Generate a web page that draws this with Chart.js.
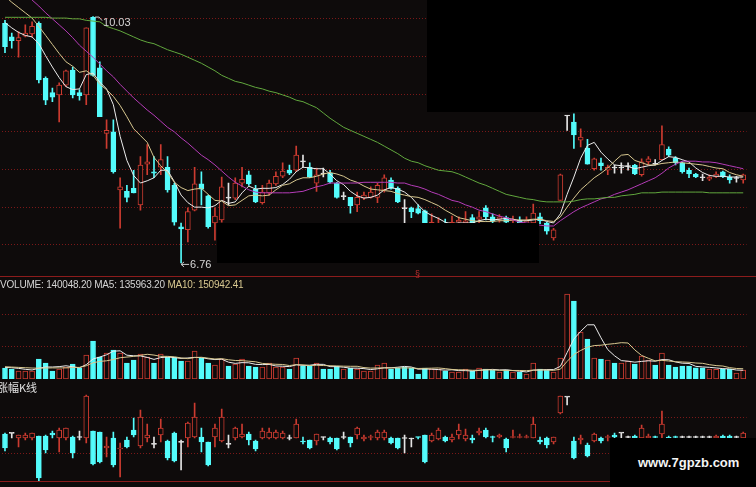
<!DOCTYPE html>
<html lang="zh-CN">
<head>
<meta charset="UTF-8">
<title>K线</title>
<style>
  html, body { margin: 0; padding: 0; background: #0e0b0b; }
  #wrap { position: relative; width: 756px; height: 487px; overflow: hidden; background: #0e0b0b;
          font-family: "Liberation Sans", Arial, sans-serif; }
  canvas { position: absolute; left: 0; }
  .mask { position: absolute; background: #000; }
  .sep { position: absolute; left: 0; width: 756px; height: 1px; background: #8c1c1c; }
  .txt { position: absolute; white-space: nowrap; line-height: 12px; }
</style>
</head>
<body>
<div id="wrap">
  <canvas id="main" width="756" height="276" style="top:0"></canvas>
  <canvas id="vol" width="756" height="102" style="top:277px"></canvas>
  <canvas id="pct" width="756" height="97" style="top:384px"></canvas>
  <div class="sep" style="top:276px"></div>
  <div class="sep" style="top:481px"></div>
  <div class="txt" style="left:415px;top:268px;font-size:9px;color:#c03030">§</div>
  <div class="txt" style="left:0;top:279px;font-size:10px;letter-spacing:-0.2px;color:#d4d4d4">VOLUME: 140048.20 MA5: 135963.20 <span style="color:#d8c890">MA10: 150942.41</span></div>
  <div class="txt" style="left:-3px;top:381px;font-size:11px;color:#e0e0e0;font-family:'Noto Sans CJK SC'">涨幅K线</div>
  <div class="mask" style="left:427px;top:0;width:329px;height:112px"></div>
  <div class="mask" style="left:217px;top:223px;width:322px;height:40px"></div>
  <div class="mask" style="left:610px;top:438px;width:146px;height:49px"></div>
  <div class="txt" style="left:638px;top:457px;font-size:13px;font-weight:bold;color:#f4f4f4">www.7gpzb.com</div>
</div>
<script src="https://cdn.jsdelivr.net/npm/chart.js"></script>
<script>
// daily prices
const open = [
  9.94, 9.76, 9.71, 9.77, 9.80, 9.94, 9.21, 9.02, 8.99, 9.12,
  9.32, 9.02, 8.99, 10.02, 9.35, 8.48, 8.50, 7.73, 7.71, 7.75,
  7.53, 8.07, 7.97, 8.03, 8.03, 7.79, 7.24, 7.20, 7.46, 7.81,
  7.65, 7.29, 7.33, 7.63, 7.62, 7.82, 7.93, 7.74, 7.56, 7.69,
  7.81, 7.91, 7.99, 7.99, 8.11, 8.03, 7.82, 7.95, 7.95, 7.82,
  7.64, 7.63, 7.53, 7.62, 7.63, 7.63, 7.73, 7.86, 7.75, 7.49,
  7.49, 7.48, 7.45, 7.22, 7.22, 7.28, 7.25, 7.30, 7.29, 7.36,
  7.34, 7.49, 7.37, 7.34, 7.36, 7.32, 7.33, 7.28, 7.29, 7.37,
  7.29, 7.09, 7.59, 8.71, 8.63, 8.39, 8.28, 8.01, 8.09, 7.99,
  8.03, 8.02, 8.04, 8.06, 7.93, 8.10, 8.08, 8.13, 8.27, 8.15,
  8.09, 7.99, 7.94, 7.90, 7.87, 7.90, 7.97, 7.90, 7.88, 7.86
];
const high = [
  9.98, 9.81, 9.83, 9.92, 9.96, 9.96, 9.23, 9.08, 9.15, 9.32,
  9.36, 9.06, 9.88, 10.03, 9.43, 8.66, 8.66, 7.89, 7.79, 7.99,
  8.17, 8.33, 8.17, 8.33, 8.17, 7.82, 7.29, 7.49, 8.03, 7.97,
  7.66, 7.49, 7.90, 7.82, 7.89, 8.03, 7.98, 7.79, 7.79, 7.86,
  7.97, 8.09, 8.06, 8.31, 8.19, 8.09, 8.02, 8.02, 7.99, 7.83,
  7.70, 7.63, 7.70, 7.70, 7.77, 7.82, 7.93, 7.89, 7.77, 7.60,
  7.50, 7.53, 7.46, 7.41, 7.36, 7.34, 7.38, 7.37, 7.44, 7.40,
  7.44, 7.52, 7.41, 7.40, 7.38, 7.38, 7.37, 7.37, 7.54, 7.42,
  7.30, 7.22, 7.94, 8.72, 8.74, 8.54, 8.40, 8.15, 8.15, 8.06,
  8.06, 8.09, 8.09, 8.07, 8.14, 8.17, 8.13, 8.58, 8.30, 8.17,
  8.10, 8.02, 7.95, 7.94, 7.93, 7.97, 7.98, 7.93, 7.91, 7.94
];
const low = [
  9.55, 9.61, 9.49, 9.76, 9.76, 9.15, 8.86, 8.90, 8.63, 9.10,
  8.95, 8.92, 8.86, 9.24, 8.70, 8.28, 7.95, 7.22, 7.57, 7.69,
  7.46, 7.93, 7.89, 7.93, 7.70, 7.26, 6.76, 7.04, 7.45, 7.53,
  7.22, 7.06, 7.30, 7.53, 7.60, 7.77, 7.79, 7.56, 7.54, 7.66,
  7.79, 7.89, 7.93, 7.97, 8.03, 7.89, 7.71, 7.90, 7.82, 7.62,
  7.60, 7.42, 7.44, 7.60, 7.62, 7.56, 7.70, 7.74, 7.56, 7.29,
  7.36, 7.41, 7.28, 7.20, 7.17, 7.18, 7.22, 7.28, 7.28, 7.28,
  7.29, 7.33, 7.29, 7.30, 7.28, 7.29, 7.25, 7.22, 7.28, 7.28,
  7.14, 7.06, 7.59, 8.52, 8.28, 8.30, 8.07, 7.99, 7.99, 7.93,
  7.95, 7.95, 7.99, 7.93, 7.91, 8.06, 8.06, 8.13, 8.17, 8.06,
  7.95, 7.89, 7.89, 7.85, 7.85, 7.89, 7.89, 7.82, 7.83, 7.82
];
const close = [
  9.63, 9.71, 9.75, 9.81, 9.90, 9.19, 8.92, 8.96, 9.12, 9.31,
  8.99, 8.98, 9.88, 9.25, 8.70, 8.52, 7.97, 7.77, 7.63, 7.69,
  8.06, 8.10, 7.95, 8.13, 7.73, 7.30, 7.21, 7.44, 7.81, 7.74,
  7.24, 7.38, 7.77, 7.62, 7.82, 7.87, 7.81, 7.57, 7.70, 7.82,
  7.91, 7.98, 7.95, 8.19, 8.10, 7.90, 7.93, 7.94, 7.83, 7.63,
  7.65, 7.52, 7.63, 7.66, 7.70, 7.79, 7.89, 7.75, 7.57, 7.48,
  7.44, 7.42, 7.29, 7.30, 7.28, 7.22, 7.30, 7.33, 7.32, 7.29,
  7.37, 7.37, 7.32, 7.37, 7.30, 7.34, 7.29, 7.32, 7.42, 7.32,
  7.18, 7.20, 7.93, 8.72, 8.46, 8.43, 8.07, 8.14, 8.05, 8.03,
  8.02, 8.03, 8.05, 7.94, 8.10, 8.14, 8.07, 8.33, 8.19, 8.09,
  7.97, 7.94, 7.90, 7.89, 7.90, 7.94, 7.90, 7.86, 7.89, 7.93
];

// moving averages as drawn
const ma5 = [
  9.95, 9.88, 9.82, 9.78, 9.76, 9.67, 9.51, 9.36, 9.22, 9.10,
  9.06, 9.07, 9.26, 9.28, 9.16, 9.07, 8.86, 8.44, 8.12, 7.92,
  7.82, 7.85, 7.89, 7.99, 7.99, 7.84, 7.66, 7.56, 7.50, 7.50,
  7.49, 7.52, 7.59, 7.55, 7.57, 7.69, 7.78, 7.74, 7.75, 7.75,
  7.76, 7.80, 7.87, 7.97, 8.03, 8.02, 8.01, 8.01, 7.94, 7.85,
  7.80, 7.71, 7.65, 7.62, 7.63, 7.66, 7.73, 7.76, 7.74, 7.70,
  7.63, 7.53, 7.44, 7.39, 7.35, 7.30, 7.28, 7.29, 7.29, 7.29,
  7.32, 7.34, 7.33, 7.34, 7.35, 7.34, 7.32, 7.32, 7.33, 7.34,
  7.31, 7.29, 7.41, 7.67, 7.90, 8.15, 8.32, 8.36, 8.23, 8.14,
  8.06, 8.05, 8.04, 8.01, 8.03, 8.05, 8.06, 8.12, 8.17, 8.16,
  8.13, 8.10, 8.02, 7.96, 7.92, 7.91, 7.91, 7.90, 7.90, 7.90
];
const ma10 = [
  10.30, 10.22, 10.15, 10.08, 10.01, 9.90, 9.78, 9.66, 9.54, 9.43,
  9.37, 9.29, 9.31, 9.25, 9.13, 9.06, 8.97, 8.85, 8.70, 8.54,
  8.45, 8.36, 8.16, 8.05, 7.96, 7.83, 7.76, 7.72, 7.74, 7.75,
  7.67, 7.59, 7.58, 7.52, 7.53, 7.59, 7.65, 7.66, 7.65, 7.66,
  7.73, 7.79, 7.81, 7.86, 7.89, 7.89, 7.91, 7.94, 7.96, 7.94,
  7.91, 7.86, 7.83, 7.78, 7.74, 7.73, 7.72, 7.71, 7.68, 7.66,
  7.64, 7.63, 7.60, 7.56, 7.52, 7.46, 7.41, 7.36, 7.34, 7.32,
  7.31, 7.31, 7.31, 7.32, 7.32, 7.33, 7.33, 7.33, 7.34, 7.34,
  7.32, 7.31, 7.37, 7.50, 7.62, 7.73, 7.81, 7.89, 7.95, 8.02,
  8.11, 8.19, 8.20, 8.12, 8.09, 8.06, 8.06, 8.08, 8.09, 8.10,
  8.09, 8.08, 8.07, 8.06, 8.04, 8.02, 8.01, 7.96, 7.93, 7.91
];
const ma20 = [
  10.58, 10.50, 10.42, 10.33, 10.25, 10.17, 10.08, 10.00, 9.92, 9.84,
  9.75, 9.65, 9.57, 9.49, 9.40, 9.31, 9.23, 9.13, 9.04, 8.95,
  8.87, 8.79, 8.72, 8.64, 8.56, 8.50, 8.42, 8.35, 8.27, 8.19,
  8.13, 8.06, 7.98, 7.90, 7.83, 7.78, 7.73, 7.70, 7.69, 7.69,
  7.69, 7.69, 7.69, 7.70, 7.71, 7.74, 7.77, 7.79, 7.82, 7.82,
  7.82, 7.82, 7.82, 7.83, 7.83, 7.83, 7.83, 7.83, 7.82, 7.82,
  7.79, 7.77, 7.74, 7.70, 7.67, 7.63, 7.59, 7.57, 7.53, 7.50,
  7.46, 7.44, 7.41, 7.38, 7.36, 7.33, 7.30, 7.29, 7.28, 7.26,
  7.25, 7.25, 7.32, 7.38, 7.44, 7.49, 7.53, 7.57, 7.61, 7.63,
  7.67, 7.70, 7.73, 7.77, 7.81, 7.85, 7.89, 7.95, 8.02, 8.07,
  8.11, 8.11, 8.11, 8.10, 8.10, 8.09, 8.07, 8.05, 8.03, 8.01
];
const ma60 = [
  10.02, 10.02, 10.02, 10.02, 10.02, 10.02, 10.02, 10.01, 10.01, 10.01,
  10.00, 10.00, 9.98, 9.97, 9.96, 9.90, 9.87, 9.84, 9.80, 9.76,
  9.72, 9.69, 9.67, 9.63, 9.59, 9.56, 9.53, 9.49, 9.45, 9.41,
  9.36, 9.31, 9.25, 9.21, 9.17, 9.15, 9.12, 9.09, 9.07, 9.04,
  9.02, 8.99, 8.96, 8.92, 8.90, 8.86, 8.82, 8.75, 8.68, 8.62,
  8.56, 8.52, 8.48, 8.44, 8.40, 8.36, 8.31, 8.26, 8.21, 8.15,
  8.11, 8.09, 8.05, 8.02, 7.99, 7.98, 7.97, 7.94, 7.90, 7.86,
  7.82, 7.79, 7.75, 7.71, 7.67, 7.65, 7.63, 7.61, 7.60, 7.58,
  7.57, 7.57, 7.57, 7.57, 7.58, 7.60, 7.61, 7.61, 7.62, 7.63,
  7.63, 7.65, 7.66, 7.67, 7.69, 7.69, 7.69, 7.70, 7.70, 7.70,
  7.70, 7.70, 7.70, 7.70, 7.69, 7.69, 7.69, 7.69, 7.69, 7.69
];

// volume, thousands
const volume = [
  171, 155, 124, 124, 124, 310, 248, 124, 155, 186,
  233, 171, 372, 589, 341, 403, 450, 403, 248, 295,
  388, 341, 248, 388, 341, 341, 279, 279, 434, 326,
  248, 217, 310, 202, 233, 310, 202, 186, 186, 248,
  186, 186, 155, 326, 202, 202, 248, 155, 155, 202,
  155, 171, 155, 124, 124, 217, 248, 155, 171, 186,
  171, 78, 171, 155, 155, 124, 109, 109, 155, 124,
  171, 155, 140, 109, 140, 109, 109, 78, 248, 155,
  140, 109, 326, 1318, 1209, 729, 620, 326, 310, 295,
  248, 248, 279, 233, 357, 295, 217, 403, 217, 186,
  200, 200, 175, 175, 155, 150, 150, 150, 90, 140
];
const volMa5 = [
  180, 175, 165, 150, 140, 167, 186, 186, 192, 205,
  189, 174, 223, 310, 341, 375, 431, 437, 369, 360,
  357, 335, 304, 332, 341, 332, 319, 326, 335, 332,
  313, 301, 307, 261, 242, 254, 251, 227, 223, 226,
  202, 198, 192, 220, 211, 214, 227, 227, 192, 192,
  183, 168, 168, 161, 146, 158, 174, 174, 183, 195,
  186, 152, 155, 152, 146, 137, 143, 130, 130, 124,
  134, 143, 149, 140, 143, 131, 121, 109, 137, 140,
  146, 146, 196, 410, 620, 738, 840, 840, 639, 456,
  360, 285, 276, 261, 273, 282, 276, 301, 298, 264,
  245, 241, 196, 187, 181, 171, 161, 156, 139, 136
];
const volMa10 = [
  190, 185, 180, 175, 170, 168, 170, 172, 172, 172,
  178, 180, 205, 251, 273, 282, 302, 330, 340, 351,
  366, 383, 371, 351, 351, 344, 327, 315, 333, 337,
  323, 310, 316, 298, 287, 284, 276, 267, 242, 234,
  228, 225, 209, 222, 219, 208, 213, 209, 206, 202,
  199, 197, 197, 177, 169, 171, 171, 171, 172, 171,
  172, 163, 165, 168, 171, 161, 148, 143, 141, 135,
  135, 143, 140, 135, 134, 132, 132, 129, 138, 141,
  138, 134, 152, 273, 380, 442, 493, 518, 524, 538,
  549, 563, 558, 450, 365, 321, 281, 289, 279, 268,
  264, 259, 248, 243, 222, 208, 201, 176, 163, 159
];

// 涨幅K线, % of previous close
const pctOpen = [
  0.75, 1.0, -0.25, -0.25, -0.25, 0.25, 0.25, 1.0, -0.25, -0.25,
  0, 0.1, -0.25, 1.5, 1.25, -2.75, -0.25, -3, -0.75, 1.75,
  -2.25, -0.25, -1.6, 0.5, -1, 1.0, -1.1, -0.25, 0, 0,
  -1.25, 0, -1, -1.6, -0.25, 0, 0.75, -1, -0.25, -0.25,
  -0.25, -0.25, -0.12, -0.25, -1, -0.75, -1, 0, -0.25, -0.25,
  -0.12, 0, 0.5, -0.5, -0.25, -0.25, -0.25, -0.25, -0.25, -0.12,
  -0.25, 0, 0.5, -1, -0.5, 0, -0.75, 0.5, -0.5, -0.25,
  1.0, 1.75, 0, 0, -0.5, -0.25, -0.25, -0.25, -0.25, -0.75,
  -0.25, -1.25, 6, 9.95, -1, -0.75, -2, -1, -0.25, -0.25,
  0.5, 0.95, -0.12, 0.25, -0.25, -0.25, 0, 0.75, 0, 0,
  0, 0, 0, 0, -0.12, -0.25, 0.25, 0.25, -0.12, -0.25
];
const pctHigh = [
  1.0, 1.0, 0.5, 1.0, 1.0, 0.25, 0.5, 1.5, 2.25, 2.25,
  0.25, 1.5, 10.5, 1.5, 1.25, 0, 1.25, -1.5, 0, 4.75,
  6.75, 3.25, 0, 4.5, -0.75, 1.25, -0.75, 3.75, 8.5, 2.25,
  -1.25, 3.25, 7, 0.5, 2.5, 3.25, 1.25, -0.75, 2.25, 2.25,
  1.75, 1.5, 0.5, 4.5, 0, -0.75, 0.75, 0, 0, -0.25,
  1.25, 0, 2.5, 0.5, 0.5, 1.75, 1.75, 0, -0.25, 0.5,
  -0.25, 0, 0.5, 1.0, 2.25, 0.25, 0.75, 3.25, 2.0, 0.5,
  2.25, 2.25, 0.25, 0.75, -0.25, 1.75, 0.75, 0.5, 5, 0,
  0, 0, 10.25, 10, 0, 0.5, -1.5, 1.0, 0, 0.5,
  1.0, 1.0, 0.25, 0.5, 3, 0.75, 0.25, 6.5, 0.25, 0.25,
  0.25, 0.25, 0.25, 0.25, 0.25, 0.5, 0.5, 0.5, 0.25, 1.25
];
const pctLow = [
  -3.5, -0.25, -2.5, -0.75, -0.75, -11, -4, -0.25, -3.75, -0.75,
  -5.25, -0.75, -1.5, -7, -6.5, -5, -7.5, -10, -2.75, 0,
  -2.75, -1.25, -2.75, -1.25, -5.75, -6.25, -8.25, -2.5, -0.25, -3.75,
  -7.25, -2.5, -1.25, -2.75, -0.75, -0.25, -2, -3.5, -0.5, -0.5,
  -0.5, -0.5, -0.75, -0.25, -1.75, -3, -2, -0.75, -1.75, -3.25,
  -0.5, -2.5, -0.5, -1, -0.75, -0.75, -0.75, -1.75, -3, -4,
  -2.5, -0.5, -6.5, -1.25, -0.75, -1.25, -1.25, -0.5, -1, -1.5,
  0.5, -0.25, -1.25, -0.25, -3.75, -0.25, -0.25, -0.25, -0.25, -1.75,
  -2.75, -1.75, 5.75, 8, -5.5, -1.75, -5, -1.25, -1.5, -1,
  -0.25, -0.25, -0.25, -0.5, -0.5, -0.5, -0.5, -0.25, -0.75, -0.5,
  -0.25, -0.25, -0.25, -0.25, -0.25, -0.25, -0.5, -0.5, -0.25, -0.5
];
const pctClose = [
  -2.75, 0.9, 0.5, 0.5, 1.0, -10.25, -3.25, 0.5, 1.75, 2.25,
  -4, 0, 10.25, -6.75, -6.25, -2.25, -7, -2.75, -2.5, 0.5,
  5, 0.5, -1.7, 2.25, -5.25, -6, -1.2, 3.5, 5, -1.25,
  -7, 2.25, 5, -1.7, 2.25, 0.75, -0.75, -3, 1.5, 1.25,
  1.25, 1.0, -0.25, 3.25, -1.25, -2.75, 0.75, -0.12, -1.25, -3,
  0, -1.5, 2.25, 0, 0, 1.25, 1.25, -1.5, -2.75, -0.25,
  -0.38, -0.25, -6.25, 0.5, 1.75, -1, 0, 1.75, 0.5, -0.75,
  1.5, 0, -0.25, 0.5, -2.75, 0, 0, 0, 3.25, -1.25,
  -2, 0, 10.25, 10, -5.25, -0.25, -4.75, 0.75, -1, 0,
  0, 1.0, 0, -0.25, 2.25, 0.25, -0.25, 3.25, -0.5, -0.25,
  -0.12, -0.12, -0.12, -0.12, 0, 0.25, -0.25, -0.25, 0, 1.0
];

const priceGrid = [7.0, 7.5, 8.0, 8.5, 9.0, 9.5, 10.0];
const volGrid = [500, 1000];
const pctGrid = [-4, 5];

const days = close.map((_, i) => 'D' + (i + 1));

const BG = '#0e0b0b';
const RED = '#cc3b30';
const CYAN = '#54fcfc';
const WHITE = '#e4e4e4';
const GRID = 'rgba(150,28,28,0.8)';

function candleColor(o, c, eps) {
  if (Math.abs(c - o) < eps) return WHITE;
  return c > o ? RED : CYAN;
}

function candleSets(o, h, l, c, eps) {
  const col = o.map((v, i) => candleColor(v, c[i], eps));
  return [
    { type: 'bar', data: h.map((v, i) => [l[i], v]), backgroundColor: col,
      borderWidth: 0, barThickness: 1, grouped: false, order: 3 },
    { type: 'bar', data: o.map((v, i) => [v, c[i]]),
      backgroundColor: col.map(x => x === RED ? BG : x), borderColor: col,
      borderWidth: 1, borderSkipped: false, barThickness: 5, minBarLength: 1,
      grouped: false, order: 2 }
  ];
}

const maLine = (data, color) => ({
  type: 'line', data, borderColor: color, borderWidth: 1,
  pointRadius: 0, tension: 0, order: 1
});

function scalesFor(min, max, grid) {
  return {
    x: { offset: true, grid: { display: false }, ticks: { display: false },
         border: { display: false }, afterFit(s) { s.height = 0; } },
    y: { min, max, ticks: { display: false },
         grid: { color: GRID, lineWidth: 1, drawTicks: false },
         border: { display: false, dash: [1, 2] },
         afterFit(s) { s.width = 0; },
         afterBuildTicks(s) { s.ticks = grid.map(v => ({ value: v })); } }
  };
}

function opts(scales) {
  return {
    responsive: false, animation: false, events: [],
    layout: { padding: { left: 1.6, right: 9.4, top: 0, bottom: 0 } },
    plugins: { legend: { display: false }, tooltip: { enabled: false } },
    scales
  };
}

// marks the highest high and the lowest low
const extremes = {
  id: 'extremes',
  afterDatasetsDraw(chart) {
    const { ctx, scales: { x, y } } = chart;
    const hi = Math.max(...high), lo = Math.min(...low);
    const ih = high.indexOf(hi), il = low.indexOf(lo);
    ctx.save();
    ctx.strokeStyle = '#cfcfcf';
    ctx.fillStyle = '#d6d6d6';
    ctx.lineWidth = 1;
    ctx.font = '11px "Liberation Sans", Arial, sans-serif';
    ctx.textBaseline = 'middle';

    let px = x.getPixelForValue(ih), py = y.getPixelForValue(hi);
    ctx.beginPath();
    ctx.moveTo(px + 2, py + 0.5);
    ctx.lineTo(px + 6, py + 0.5);
    ctx.lineTo(px + 9, py + 4);
    ctx.stroke();
    ctx.fillText(hi.toFixed(2), px + 10, py + 6);

    px = x.getPixelForValue(il); py = y.getPixelForValue(lo);
    ctx.beginPath();
    ctx.moveTo(px, py + 1.5);
    ctx.lineTo(px + 8, py + 1.5);
    ctx.moveTo(px, py + 1.5);
    ctx.lineTo(px + 3, py - 1);
    ctx.moveTo(px, py + 1.5);
    ctx.lineTo(px + 3, py + 4);
    ctx.stroke();
    ctx.fillText(lo.toFixed(2), px + 9, py + 2);
    ctx.restore();
  }
};

new Chart(document.getElementById('main'), {
  data: {
    labels: days,
    datasets: [
      ...candleSets(open, high, low, close, 0.015),
      maLine(ma60, '#62a83e'),
      maLine(ma20, '#b53cb8'),
      maLine(ma10, '#d8c890'),
      maLine(ma5, '#ececec')
    ]
  },
  options: opts(scalesFor(6.586, 10.25, priceGrid)),
  plugins: [extremes]
});

const volColors = open.map((o, i) => close[i] > o ? RED : CYAN);
new Chart(document.getElementById('vol'), {
  data: {
    labels: days,
    datasets: [
      { type: 'bar', data: volume,
        backgroundColor: volColors.map(c => c === RED ? BG : c), borderColor: volColors,
        borderWidth: 1, borderSkipped: false, barThickness: 5, order: 2 },
      maLine(volMa10, '#d8c890'),
      maLine(volMa5, '#ececec')
    ]
  },
  options: opts(scalesFor(0, 1581, volGrid))
});

new Chart(document.getElementById('pct'), {
  data: {
    labels: days,
    datasets: candleSets(pctOpen, pctHigh, pctLow, pctClose, 0.15)
  },
  options: opts(scalesFor(-11, 13.25, pctGrid))
});
</script>
</body>
</html>
